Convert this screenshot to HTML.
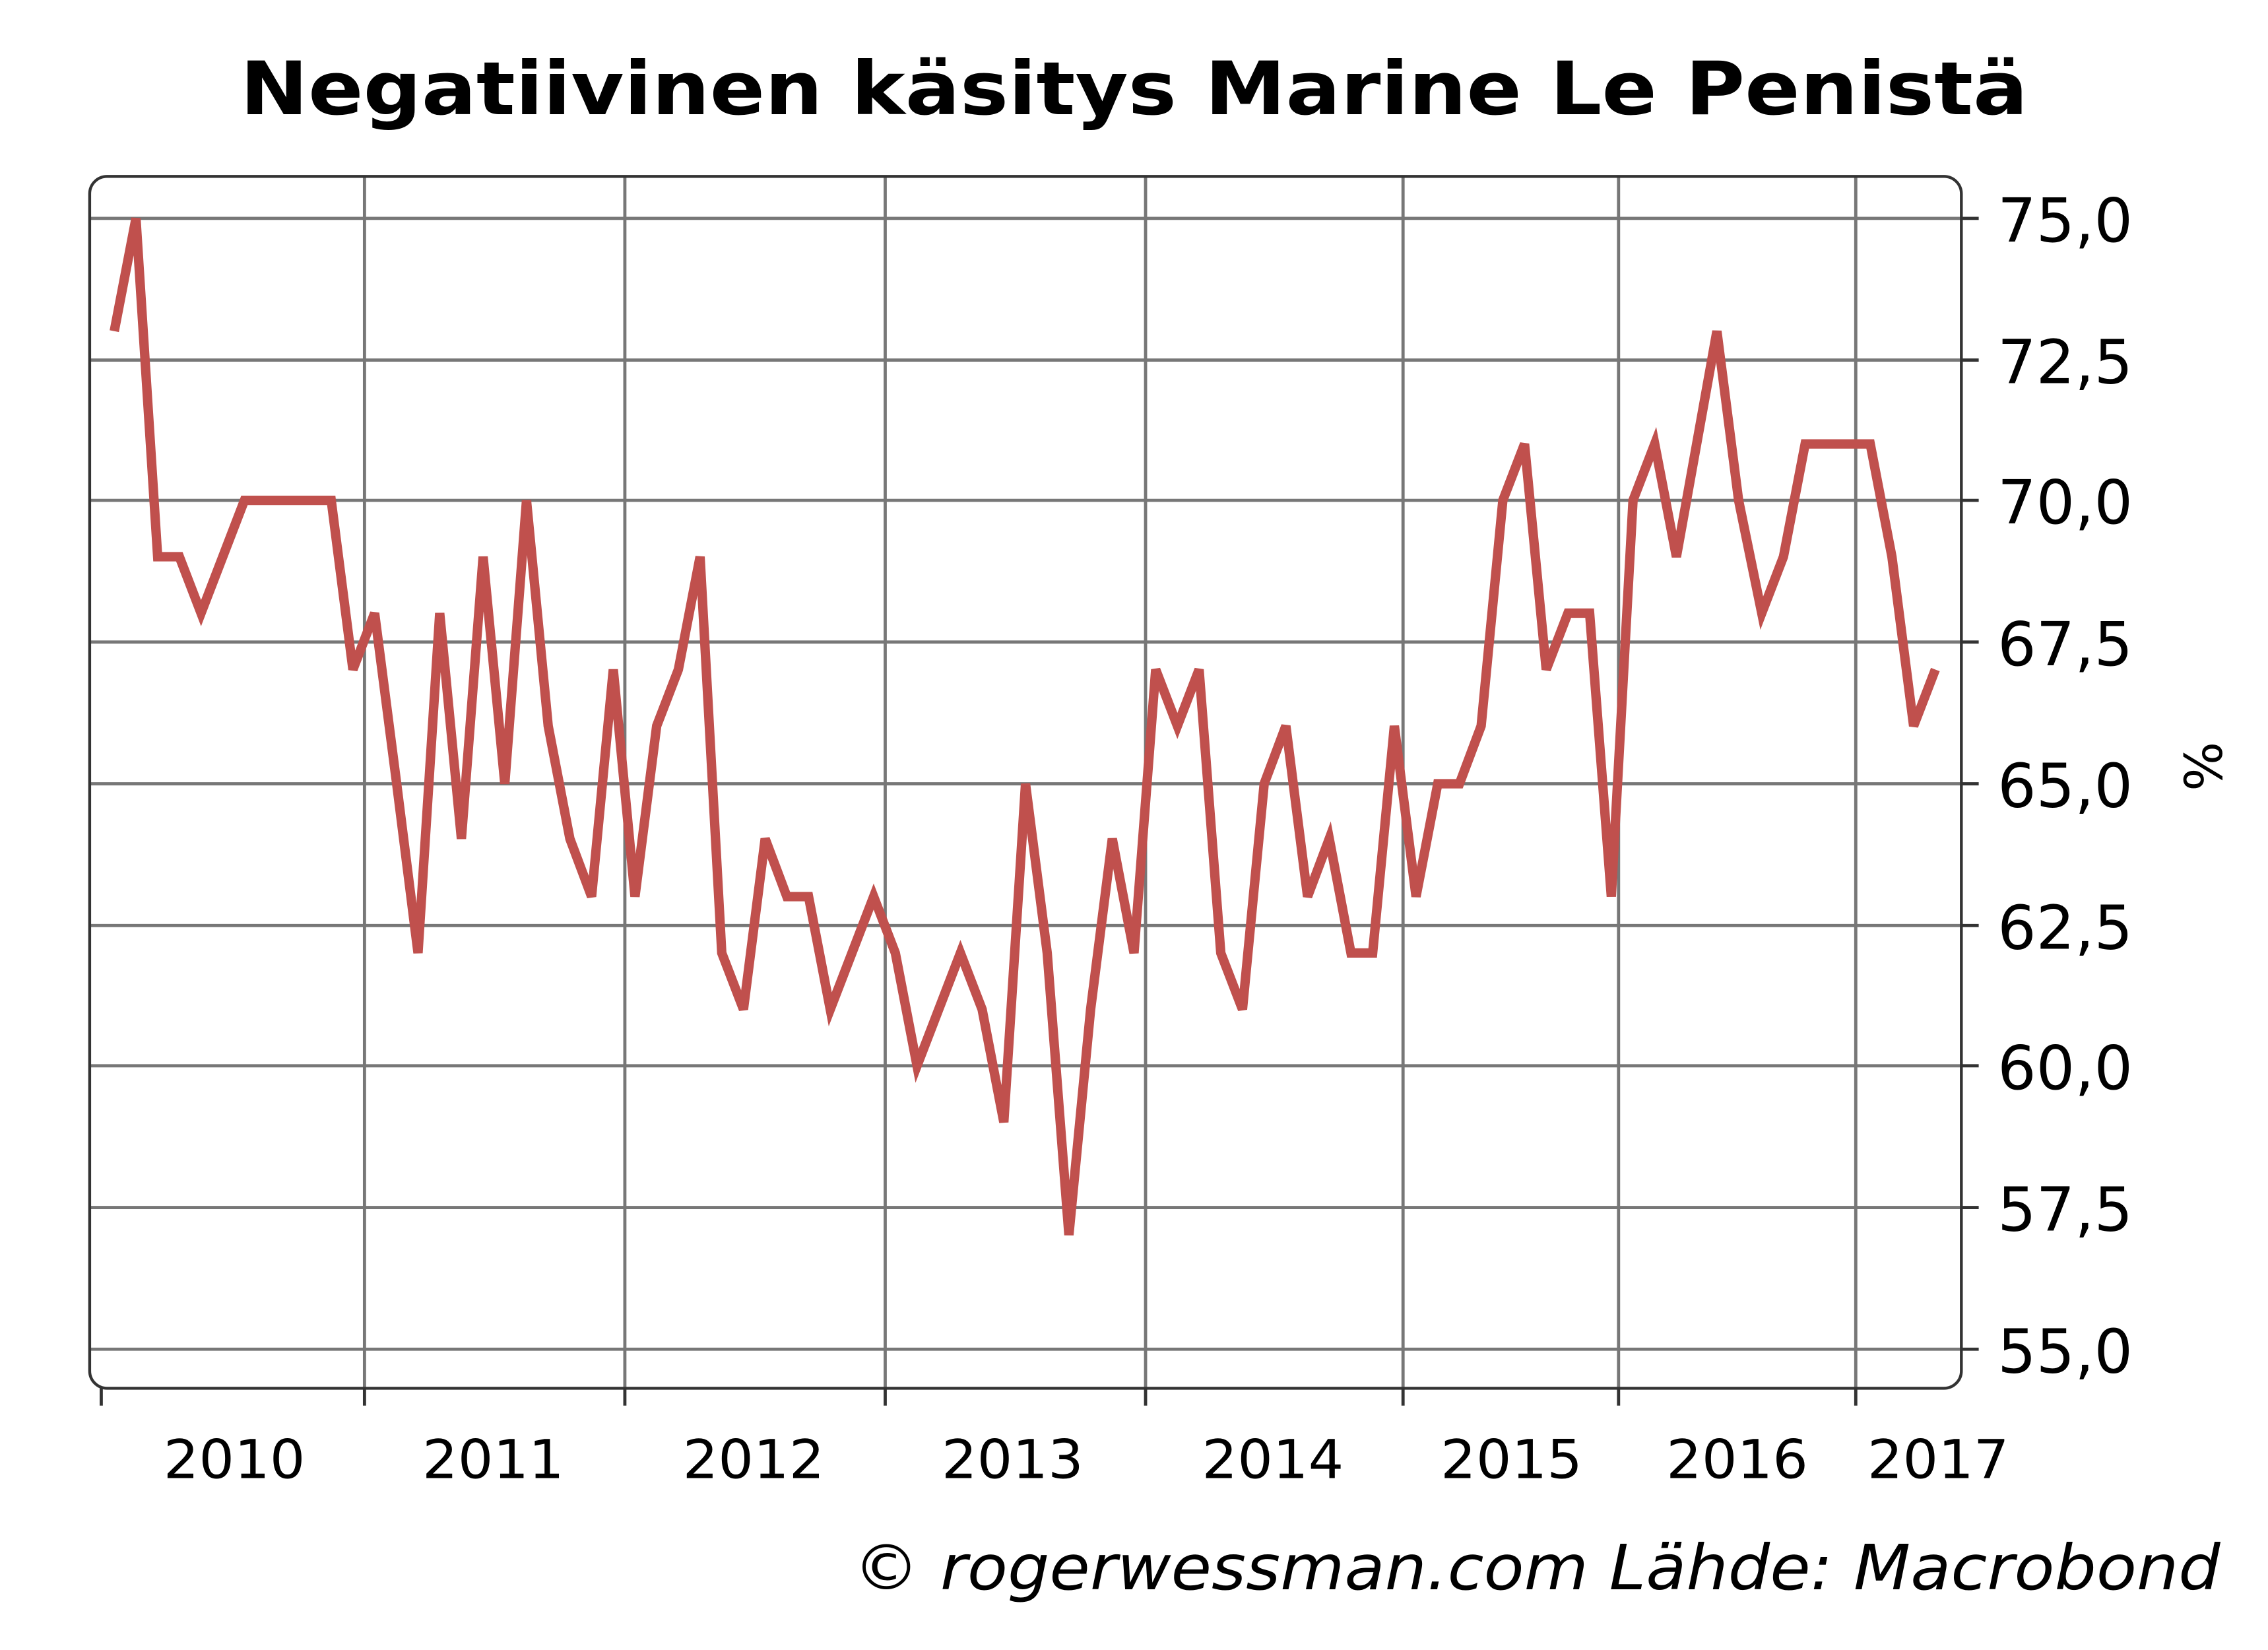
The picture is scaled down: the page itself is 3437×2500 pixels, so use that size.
<!DOCTYPE html>
<html><head><meta charset="utf-8"><style>html,body{margin:0;padding:0;background:#fff}svg{display:block}</style></head>
<body>
<svg width="3437" height="2500" viewBox="0 0 1568 1141" preserveAspectRatio="none" xmlns="http://www.w3.org/2000/svg" font-family="DejaVu Sans, Liberation Sans, sans-serif">
<rect width="1568" height="1141" fill="#fff"/>
<text x="166" y="79" font-size="51" font-weight="bold" textLength="1236" lengthAdjust="spacingAndGlyphs" fill="#000">Negatiivinen käsitys Marine Le Penistä</text>
<g stroke="#777" stroke-width="2.2">
<line x1="62" x2="1356" y1="151" y2="151"/><line x1="62" x2="1356" y1="249" y2="249"/>
<line x1="62" x2="1356" y1="346" y2="346"/><line x1="62" x2="1356" y1="444" y2="444"/>
<line x1="62" x2="1356" y1="542" y2="542"/><line x1="62" x2="1356" y1="640" y2="640"/>
<line x1="62" x2="1356" y1="737" y2="737"/><line x1="62" x2="1356" y1="835" y2="835"/>
<line x1="62" x2="1356" y1="933" y2="933"/>
<line x1="252" x2="252" y1="122" y2="960"/><line x1="432" x2="432" y1="122" y2="960"/>
<line x1="612" x2="612" y1="122" y2="960"/><line x1="792" x2="792" y1="122" y2="960"/>
<line x1="970" x2="970" y1="122" y2="960"/><line x1="1119" x2="1119" y1="122" y2="960"/>
<line x1="1283" x2="1283" y1="122" y2="960"/>
</g>
<rect x="62" y="122" width="1294" height="838" rx="12" fill="none" stroke="#333" stroke-width="2"/>
<g stroke="#333" stroke-width="2.2">
<line x1="1356" x2="1368" y1="151" y2="151"/><line x1="1356" x2="1368" y1="249" y2="249"/>
<line x1="1356" x2="1368" y1="346" y2="346"/><line x1="1356" x2="1368" y1="444" y2="444"/>
<line x1="1356" x2="1368" y1="542" y2="542"/><line x1="1356" x2="1368" y1="640" y2="640"/>
<line x1="1356" x2="1368" y1="737" y2="737"/><line x1="1356" x2="1368" y1="835" y2="835"/>
<line x1="1356" x2="1368" y1="933" y2="933"/>
<line x1="70" x2="70" y1="960" y2="972"/><line x1="252" x2="252" y1="960" y2="972"/>
<line x1="432" x2="432" y1="960" y2="972"/><line x1="612" x2="612" y1="960" y2="972"/>
<line x1="792" x2="792" y1="960" y2="972"/><line x1="970" x2="970" y1="960" y2="972"/>
<line x1="1119" x2="1119" y1="960" y2="972"/><line x1="1283" x2="1283" y1="960" y2="972"/>
</g>
<g font-size="42" fill="#000">
<text x="1381" y="167">75,0</text>
<text x="1381" y="265">72,5</text>
<text x="1381" y="362">70,0</text>
<text x="1381" y="460">67,5</text>
<text x="1381" y="558">65,0</text>
<text x="1381" y="656">62,5</text>
<text x="1381" y="753">60,0</text>
<text x="1381" y="851">57,5</text>
<text x="1381" y="949">55,0</text>
</g>
<text transform="translate(1536,530) rotate(-90)" font-size="36" text-anchor="middle" fill="#000">%</text>
<g font-size="37" fill="#000">
<text x="113" y="1022" textLength="98" lengthAdjust="spacingAndGlyphs">2010</text>
<text x="292" y="1022" textLength="98" lengthAdjust="spacingAndGlyphs">2011</text>
<text x="472" y="1022" textLength="98" lengthAdjust="spacingAndGlyphs">2012</text>
<text x="651" y="1022" textLength="98" lengthAdjust="spacingAndGlyphs">2013</text>
<text x="831" y="1022" textLength="98" lengthAdjust="spacingAndGlyphs">2014</text>
<text x="996" y="1022" textLength="98" lengthAdjust="spacingAndGlyphs">2015</text>
<text x="1152" y="1022" textLength="98" lengthAdjust="spacingAndGlyphs">2016</text>
<text x="1291" y="1022" textLength="98" lengthAdjust="spacingAndGlyphs">2017</text>
</g>
<text x="590" y="1099" font-size="43" font-style="italic" textLength="945" lengthAdjust="spacingAndGlyphs" fill="#000">© rogerwessman.com Lähde: Macrobond</text>
<polyline fill="none" stroke="#c0504d" stroke-width="6.5" stroke-linejoin="miter" points="79,229 94,151 109,385 124,385 139,424 154,385 169,346 184,346 199,346 214,346 229,346 244,463 259,424 274,540 289,659 304,424 319,580 334,385 349,542 364,346 379,502 394,580 409,620 424,463 439,620 454,502 469,463 484,385 499,659 514,698 529,580 544,620 559,620 574,698 589,659 604,620 619,659 634,737 649,698 664,659 679,698 694,776 709,542 724,659 739,854 754,698 769,580 784,659 799,463 814,502 829,463 844,659 859,698 874,542 889,502 904,620 919,580 934,659 949,659 964,502 979,620 994,542 1009,542 1024,502 1039,346 1054,307 1069,463 1084,424 1099,424 1114,620 1129,346 1144,307 1159,385 1187,229 1202,346 1218,424 1233,385 1248,307 1263,307 1278,307 1293,307 1308,385 1323,502 1338,463"/>
</svg>
</body></html>
